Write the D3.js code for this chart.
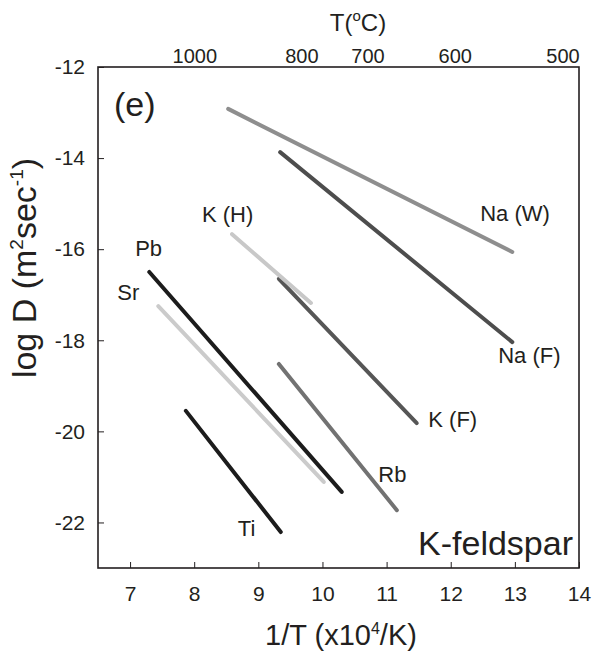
<!DOCTYPE html>
<html>
<head>
<meta charset="utf-8">
<script src="https://cdn.jsdelivr.net/npm/d3@7"></script>
<style>
  html, body { margin: 0; padding: 0; background: #fff; }
  svg text { font-family: "Liberation Sans", Arial, Helvetica, sans-serif; fill: #231f20; }
</style>
</head>
<body>
<svg id="chart" width="597" height="656"></svg>
<script>
// Arrhenius segments for K-feldspar: [1/T start, logD start, 1/T end, logD end]
const species = ["Na (W)", "Na (F)", "K (F)", "K (H)", "Rb", "Pb", "Sr", "Ti"];
const invTStart = [8.53, 9.34, 9.32, 8.59, 9.32, 7.30, 7.44, 7.87];
const logDStart = [-12.92, -13.87, -16.65, -15.67, -18.52, -16.50, -17.25, -19.55];
const invTEnd   = [12.96, 12.96, 11.47, 9.82, 11.16, 10.30, 10.02, 9.35];
const logDEnd   = [-16.06, -18.04, -19.82, -17.18, -21.73, -21.33, -21.11, -22.21];
const lineColor = ["#8e8e8e", "#4d4d4d", "#565656", "#c8c8c8", "#727272", "#1c1c1c", "#cbcbcb", "#1c1c1c"];

// Species label anchors in data units (left edge of text, baseline)
const labelInvT = [12.46, 12.74, 11.65, 8.12, 10.87, 7.08, 6.80, 8.68];
const labelLogD = [-15.38, -18.50, -19.90, -15.40, -21.11, -16.15, -17.12, -22.30];

// Axis ticks
const xTicks = [7, 8, 9, 10, 11, 12, 13, 14];
const yTicks = [-12, -14, -16, -18, -20, -22];
const topTempLabels = ["1000", "800", "700", "600", "500"];
const topTempAt = [8.01, 9.68, 10.71, 12.07, 13.75]; // 1/T positions of the °C labels

const svg = d3.select("#chart");
const L = 98, R = 579, T = 67, B = 568;

const x = d3.scaleLinear().domain([6.5, 14]).range([L, R]);
const y = d3.scaleLinear().domain([-23, -12]).range([B, T]);

// bottom axis: ticks pointing inward
const xAxis = d3.axisBottom(x).tickValues(xTicks).tickSizeInner(-6).tickSizeOuter(0).tickPadding(18);
const gx = svg.append("g").attr("transform", `translate(0,${B})`).call(xAxis);
gx.select(".domain").remove();
gx.selectAll(".tick line").attr("stroke", "#231f20").attr("stroke-width", 1);
gx.selectAll(".tick text").attr("font-size", 21).attr("fill", "#231f20")
  .attr("font-family", "Liberation Sans, Arial, sans-serif");

// left axis
const yAxis = d3.axisLeft(y).tickValues(yTicks).tickSizeInner(-6).tickSizeOuter(0).tickPadding(13)
  .tickFormat(d => "-" + Math.abs(d));
const gy = svg.append("g").attr("transform", `translate(${L},0)`).call(yAxis);
gy.select(".domain").remove();
gy.selectAll(".tick line").attr("stroke", "#231f20").attr("stroke-width", 1);
gy.selectAll(".tick text").attr("font-size", 21).attr("fill", "#231f20")
  .attr("font-family", "Liberation Sans, Arial, sans-serif");

// top temperature labels
svg.append("g").selectAll("text").data(topTempLabels).join("text")
  .attr("x", (d, i) => x(topTempAt[i]))
  .attr("y", 63)
  .attr("text-anchor", "middle")
  .attr("font-size", 20)
  .text(d => d);

// frame
svg.append("rect").attr("x", L).attr("y", T).attr("width", R - L).attr("height", B - T)
  .attr("fill", "none").attr("stroke", "#231f20").attr("stroke-width", 1.6);

// diffusion lines
svg.append("g").selectAll("line").data(species).join("line")
  .attr("x1", (d, i) => x(invTStart[i]))
  .attr("y1", (d, i) => y(logDStart[i]))
  .attr("x2", (d, i) => x(invTEnd[i]))
  .attr("y2", (d, i) => y(logDEnd[i]))
  .attr("stroke", (d, i) => lineColor[i])
  .attr("stroke-width", 4)
  .attr("stroke-linecap", "round");

// species labels
svg.append("g").selectAll("text").data(species).join("text")
  .attr("x", (d, i) => x(labelInvT[i]))
  .attr("y", (d, i) => y(labelLogD[i]))
  .attr("font-size", 22)
  .text(d => d);

// panel tag and mineral name
svg.append("text").attr("x", 114).attr("y", 116).attr("font-size", 34).text("(e)");
svg.append("text").attr("x", 573).attr("y", 555).attr("text-anchor", "end").attr("font-size", 34).text("K-feldspar");

// axis titles
const xt = svg.append("text").attr("x", 341).attr("y", 645).attr("text-anchor", "middle").attr("font-size", 29);
xt.append("tspan").text("1/T (x10");
xt.append("tspan").attr("font-size", 16).attr("dy", -11).text("4");
xt.append("tspan").attr("dy", 11).text("/K)");

const yt = svg.append("text").attr("transform", "translate(36,268) rotate(-90)")
  .attr("text-anchor", "middle").attr("font-size", 34);
yt.append("tspan").text("log D (m");
yt.append("tspan").attr("font-size", 19).attr("dy", -13).text("2");
yt.append("tspan").attr("dy", 13).text("sec");
yt.append("tspan").attr("font-size", 19).attr("dy", -13).text("-1");
yt.append("tspan").attr("dy", 13).text(")");

const tt = svg.append("text").attr("x", 358).attr("y", 31).attr("text-anchor", "middle").attr("font-size", 24);
tt.append("tspan").text("T(");
tt.append("tspan").attr("font-size", 15).attr("dy", -10).text("o");
tt.append("tspan").attr("dy", 10).text("C)");
</script>
</body>
</html>
